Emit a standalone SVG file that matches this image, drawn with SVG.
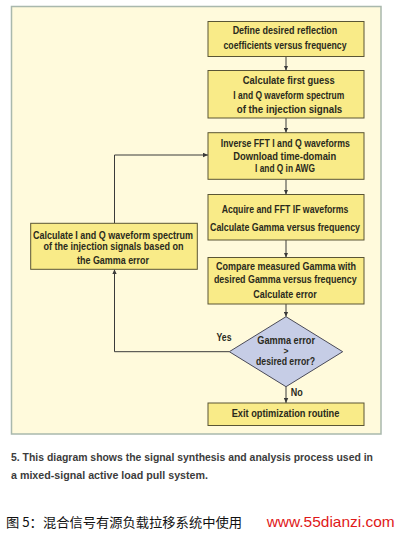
<svg xmlns="http://www.w3.org/2000/svg" width="400" height="533" viewBox="0 0 400 533">
<style>
.box{fill:#f9eb88;stroke:#5a5535;stroke-width:1}
.dia{fill:#c6cde6;stroke:#4a4a58;stroke-width:1}
.t{font-family:"Liberation Sans",Arial,sans-serif;font-weight:bold;font-size:10.5px;fill:#2a2a1c;text-anchor:middle}
.lbl{font-family:"Liberation Sans",Arial,sans-serif;font-weight:bold;font-size:10.5px;fill:#2a2a1c}
.cap{font-family:"Liberation Sans",Arial,sans-serif;font-weight:bold;font-size:10.5px;fill:#3c3c3c}
.cn{fill:none;stroke:#3a3a3a;stroke-width:1}
</style>
<defs>
<marker id="ah" viewBox="0 0 10 10" refX="10" refY="5" markerWidth="5" markerHeight="5" markerUnits="userSpaceOnUse" orient="auto">
<path d="M0,0.5 L10,5 L0,9.5 z" fill="#3a3a3a"/>
</marker>
</defs>
<rect width="400" height="533" fill="#ffffff"/>
<rect x="11.5" y="6.5" width="369.5" height="427.5" fill="#fffadc" stroke="#a9b8ad" stroke-width="1.5"/>

<g id="connectors">
<line class="cn" x1="286" y1="56.5" x2="286" y2="70.5" marker-end="url(#ah)"/>
<line class="cn" x1="286" y1="118" x2="286" y2="132.7" marker-end="url(#ah)"/>
<line class="cn" x1="286" y1="179.3" x2="286" y2="194.5" marker-end="url(#ah)"/>
<line class="cn" x1="286" y1="240" x2="286" y2="257.5" marker-end="url(#ah)"/>
<line class="cn" x1="286" y1="304" x2="286" y2="316.7" marker-end="url(#ah)"/>
<line class="cn" x1="286" y1="386.7" x2="286" y2="403" marker-end="url(#ah)"/>
<polyline class="cn" points="114.5,223.3 114.5,155 208,155" marker-end="url(#ah)"/>
<polyline class="cn" points="229.3,351.7 114.5,351.7 114.5,269.3" marker-end="url(#ah)"/>
<text class="lbl" x="216.5" y="340.8" textLength="15" lengthAdjust="spacingAndGlyphs">Yes</text>
<text class="lbl" x="290.7" y="396.2" textLength="12" lengthAdjust="spacingAndGlyphs">No</text>
</g>

<g id="n1">
<rect class="box" x="208" y="21.5" width="156" height="35"/>
<text class="t" x="285" y="34.3" textLength="104.7" lengthAdjust="spacingAndGlyphs">Define desired reflection</text>
<text class="t" x="285" y="48.6" textLength="123" lengthAdjust="spacingAndGlyphs">coefficients versus frequency</text>
</g>
<g id="n2">
<rect class="box" x="208" y="70.5" width="156" height="47.5"/>
<text class="t" x="288.8" y="84.2" textLength="92" lengthAdjust="spacingAndGlyphs">Calculate first guess</text>
<text class="t" x="288.8" y="98.5" textLength="111" lengthAdjust="spacingAndGlyphs">I and Q waveform spectrum</text>
<text class="t" x="289.5" y="112.5" textLength="105.6" lengthAdjust="spacingAndGlyphs">of the injection signals</text>
</g>
<g id="n3">
<rect class="box" x="208" y="132.7" width="156" height="46.6"/>
<text class="t" x="285.3" y="146.8" textLength="129" lengthAdjust="spacingAndGlyphs">Inverse FFT I and Q waveforms</text>
<text class="t" x="284.7" y="159.5" textLength="103" lengthAdjust="spacingAndGlyphs">Download time-domain</text>
<text class="t" x="285" y="171.8" textLength="60" lengthAdjust="spacingAndGlyphs">I and Q in AWG</text>
</g>
<g id="n4">
<rect class="box" x="208" y="194.5" width="156" height="45.5"/>
<text class="t" x="285" y="212.8" textLength="126.7" lengthAdjust="spacingAndGlyphs">Acquire and FFT IF waveforms</text>
<text class="t" x="285" y="230.8" textLength="150" lengthAdjust="spacingAndGlyphs">Calculate Gamma versus frequency</text>
</g>
<g id="n5">
<rect class="box" x="208" y="257.5" width="156" height="46.5"/>
<text class="t" x="286" y="269.5" textLength="140" lengthAdjust="spacingAndGlyphs">Compare measured Gamma with</text>
<text class="t" x="285.3" y="282.8" textLength="142.7" lengthAdjust="spacingAndGlyphs">desired Gamma versus frequency</text>
<text class="t" x="285" y="297.8" textLength="63.3" lengthAdjust="spacingAndGlyphs">Calculate error</text>
</g>
<g id="n6">
<polygon class="dia" points="286,316.7 342.7,351.7 286,386.7 229.3,351.7"/>
<text class="t" x="286.2" y="344" textLength="57.7" lengthAdjust="spacingAndGlyphs">Gamma error</text>
<text class="t" x="286" y="354.3" style="font-size:8.5px">&gt;</text>
<text class="t" x="285.5" y="365.4" textLength="59" lengthAdjust="spacingAndGlyphs">desired error?</text>
</g>
<g id="n7">
<rect class="box" x="208" y="403" width="156" height="22.5"/>
<text class="t" x="285.5" y="416.8" textLength="107.7" lengthAdjust="spacingAndGlyphs">Exit optimization routine</text>
</g>
<g id="n8">
<rect class="box" x="30.7" y="223.3" width="166.6" height="46"/>
<text class="t" x="113" y="238.5" textLength="160" lengthAdjust="spacingAndGlyphs">Calculate I and Q waveform spectrum</text>
<text class="t" x="113.5" y="250.2" textLength="140" lengthAdjust="spacingAndGlyphs">of the injection signals based on</text>
<text class="t" x="113" y="263.5" textLength="72" lengthAdjust="spacingAndGlyphs">the Gamma error</text>
</g>

<text class="cap" x="11" y="460.6" textLength="362" lengthAdjust="spacingAndGlyphs">5. This diagram shows the signal synthesis and analysis process used in</text>
<text class="cap" x="11" y="479" textLength="197" lengthAdjust="spacingAndGlyphs">a mixed-signal active load pull system.</text>
<text x="6" y="527" font-family="'Noto Sans CJK SC',sans-serif" font-size="13" fill="#111111" textLength="236" lengthAdjust="spacingAndGlyphs">图 5：混合信号有源负载拉移系统中使用</text>
<text x="266.7" y="527" font-family="'Liberation Sans',Arial,sans-serif" font-size="15" fill="#e01818" textLength="128" lengthAdjust="spacingAndGlyphs">www.55dianzi.com</text>
</svg>
